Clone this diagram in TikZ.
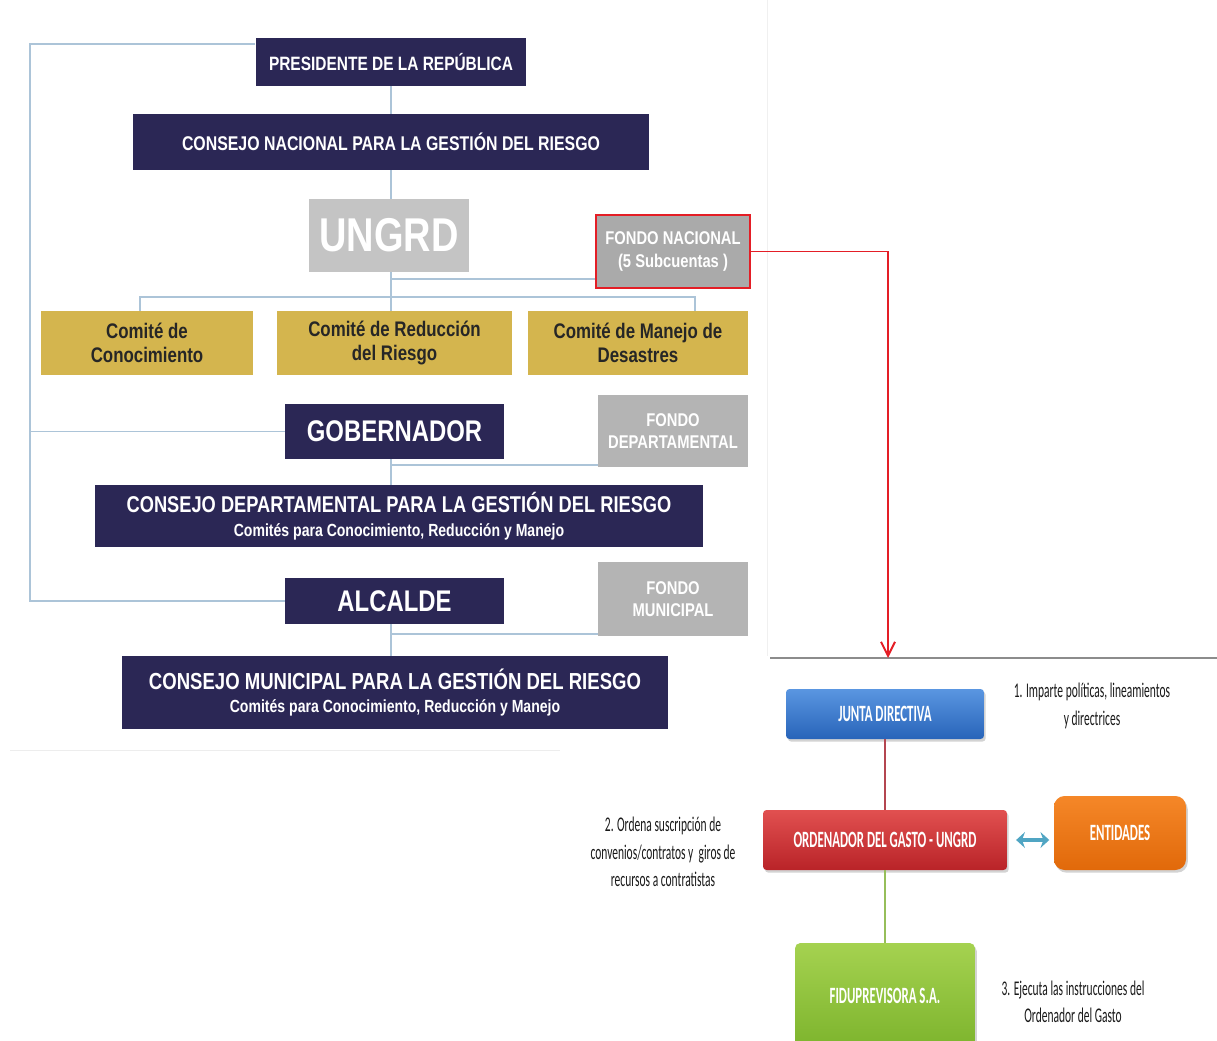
\documentclass[tikz,border=0pt]{standalone}
\usepackage{fontspec}
\usetikzlibrary{arrows.meta,shadows}
\newfontfamily\arialn[FakeStretch=0.8]{Liberation Sans}
\newfontfamily\calibn[FakeStretch=0.55]{Carlito}
\definecolor{navy}{RGB}{43,39,85}
\definecolor{gold}{RGB}{212,181,78}
\definecolor{ungrdgray}{RGB}{196,196,196}
\definecolor{fondogray}{RGB}{170,170,170}
\definecolor{sidegray}{RGB}{180,180,180}
\definecolor{fondored}{RGB}{228,30,38}
\definecolor{linkblue}{RGB}{172,196,216}
\definecolor{jblue1}{RGB}{90,150,225}
\definecolor{jblue2}{RGB}{40,100,185}
\definecolor{ored1}{RGB}{225,80,80}
\definecolor{ored2}{RGB}{185,35,40}
\definecolor{orange1}{RGB}{245,135,40}
\definecolor{orange2}{RGB}{225,105,10}
\definecolor{green1}{RGB}{165,210,80}
\definecolor{green2}{RGB}{125,180,45}
\definecolor{jline}{RGB}{180,70,80}
\definecolor{gline}{RGB}{150,190,90}
\definecolor{tealc}{RGB}{80,165,195}

\begin{document}
\begin{tikzpicture}[x=0.02cm, y=-0.02cm,
    navybox/.style={fill=navy, text=white, inner sep=0pt, align=center},
    goldbox/.style={fill=gold, text=black!85, inner sep=0pt, align=center, font=\arialn\bfseries\fontsize{12}{13.6}\selectfont},
    greybox/.style={fill=#1, text=white, inner sep=0pt, align=center, font=\arialn\bfseries\fontsize{10.5}{12.8}\selectfont},
    link/.style={draw=linkblue, line width=1.1pt},
    flowbox/.style={inner sep=0pt, text=white, align=center, font=\calibn\bfseries\fontsize{13.3}{15}\selectfont,
      drop shadow={opacity=.35, shadow xshift=1pt, shadow yshift=-1.5pt}},
    nota/.style={align=center, text=black!90, font=\calibn\fontsize{11.9}{15.5}\selectfont},
    >={Straight Barb[length=8pt,width=8pt]}]
  \useasboundingbox (0,0) rectangle (1217,1041);
  \clip (0,0) rectangle (1217,1041);
  % national level
  \node[navybox, minimum width=5.42cm, minimum height=0.96cm, font=\arialn\bfseries\fontsize{11}{13}\selectfont] (presidente) at (391,62) {PRESIDENTE DE LA REPÚBLICA};
  \node[navybox, minimum width=10.34cm, minimum height=1.12cm, font=\arialn\bfseries\fontsize{11.3}{13}\selectfont] (cnacional) at (391,142) {CONSEJO NACIONAL PARA LA GESTIÓN DEL RIESGO};
  \node[greybox=ungrdgray, minimum width=3.2cm, minimum height=1.46cm, font=\arialn\bfseries\fontsize{27}{27}\selectfont] (ungrd) at (389,235.5) {UNGRD};
  \node[greybox=fondogray, draw=fondored, line width=1.6pt, minimum width=3.08cm, minimum height=1.46cm] (fnacional) at (673,251.5) {FONDO NACIONAL\\(5 Subcuentas )};
  \node[goldbox, minimum width=4.24cm, minimum height=1.28cm] (cconoc) at (147,343) {Comité de\\Conocimiento};
  \node[goldbox, minimum width=4.7cm, minimum height=1.28cm] (creduc) at (394.5,343) {Comité de Reducción\\del Riesgo};
  \node[goldbox, minimum width=4.4cm, minimum height=1.28cm] (cmanejo) at (638,343) {Comité de Manejo de\\Desastres};
  % departmental level
  \node[navybox, minimum width=4.38cm, minimum height=1.1cm, font=\arialn\bfseries\fontsize{17}{17}\selectfont] (gobernador) at (394.5,431.5) {GOBERNADOR};
  \node[greybox=sidegray, minimum width=3cm, minimum height=1.44cm] (fdepto) at (673,431) {FONDO\\DEPARTAMENTAL};
  \node[navybox, minimum width=12.16cm, minimum height=1.24cm, font=\arialn\bfseries\fontsize{10}{13.6}\selectfont] (cdepto) at (399,516) {{\fontsize{13}{13.6}\selectfont CONSEJO DEPARTAMENTAL PARA LA GESTIÓN DEL RIESGO}\\Comités para Conocimiento, Reducción y Manejo};
  % municipal level
  \node[navybox, minimum width=4.38cm, minimum height=0.92cm, font=\arialn\bfseries\fontsize{17}{17}\selectfont] (alcalde) at (394.5,601) {ALCALDE};
  \node[greybox=sidegray, minimum width=3cm, minimum height=1.48cm] (fmunicipal) at (673,599) {FONDO\\MUNICIPAL};
  \node[navybox, minimum width=10.92cm, minimum height=1.46cm, font=\arialn\bfseries\fontsize{10}{13.6}\selectfont] (cmunicipal) at (395,692.5) {{\fontsize{13.2}{13.6}\selectfont CONSEJO MUNICIPAL PARA LA GESTIÓN DEL RIESGO}\\Comités para Conocimiento, Reducción y Manejo};
  % left frame
  \coordinate (fr) at (30,44);
  \draw[link] (presidente.west |- fr) -- (fr) -- (fr |- alcalde) -- (alcalde.west);
  \draw[link] (fr |- gobernador) -- (gobernador.west);
  % spine
  \coordinate (jn) at (391,279);
  \draw[link] (presidente.south) -- (cnacional.north);
  \draw[link] (cnacional.south) -- (cnacional.south |- ungrd.north);
  \draw[link] (ungrd.south -| jn) -- (creduc.north -| jn);
  \draw[link] (jn) -- (jn -| fnacional.west);
  \coordinate (bl) at (140,297);
  \coordinate (br) at (695,297);
  \draw[link] (bl |- cconoc.north) -- (bl) -- (br) -- (br |- cmanejo.north);
  \coordinate (jd) at (391,465);
  \draw[link] (gobernador.south -| jn) -- (cdepto.north -| jn);
  \draw[link] (jd) -- (jd -| fdepto.west);
  \coordinate (jm) at (391,634);
  \draw[link] (alcalde.south -| jn) -- (cmunicipal.north -| jn);
  \draw[link] (jm) -- (jm -| fmunicipal.west);
  % screenshot edges
  \draw[black!6] (767,0) -- (767,656);
  \draw[black!7] (10,750) -- (560,750);
  \coordinate (sepl) at (770,658);
  \coordinate (sepr) at (1217,658);
  \draw[black!45, line width=0.7pt] (sepl) -- (sepr);
  % fondo -> junta
  \coordinate (rc) at (888,0);
  \draw[fondored, line width=1.1pt, ->] (fnacional.east) -- (fnacional.east -| rc) -- (rc |- sepl);
  % fiducia flow
  \node[flowbox, top color=jblue1, bottom color=jblue2, rounded corners=2pt, minimum width=3.96cm, minimum height=1cm] (junta) at (885,714) {JUNTA DIRECTIVA};
  \node[flowbox, top color=ored1, bottom color=ored2, rounded corners=2pt, minimum width=4.88cm, minimum height=1.2cm] (ordenador) at (885,840) {ORDENADOR DEL GASTO - UNGRD};
  \node[flowbox, top color=orange1, bottom color=orange2, rounded corners=6pt, minimum width=2.64cm, minimum height=1.48cm] (entidades) at (1120,833) {ENTIDADES};
  \node[flowbox, top color=green1, bottom color=green2, rounded corners=3pt, minimum width=3.6cm, minimum height=2.1cm] (fidu) at (885,995.5) {FIDUPREVISORA S.A.};
  \draw[jline, line width=1pt] (junta.south) -- (ordenador.north);
  \draw[gline, line width=1pt] (ordenador.south) -- (fidu.north);
  \draw[tealc, line width=2.2pt, {Stealth[length=5pt,width=9pt]}-{Stealth[length=5pt,width=9pt]}, shorten <=5pt, shorten >=2.5pt] (ordenador.east) -- (ordenador.east -| entidades.west);
  \node[nota] (nota1) at (1092,706) {1. Imparte políticas, lineamientos\\y directrices};
  \node[nota] (nota2) at (663,852) {2. Ordena suscripción de\\convenios/contratos y~ giros de\\recursos a contratistas};
  \node[nota] (nota3) at (1073,1002) {3. Ejecuta las instrucciones del\\Ordenador del Gasto};
\end{tikzpicture}
\end{document}
